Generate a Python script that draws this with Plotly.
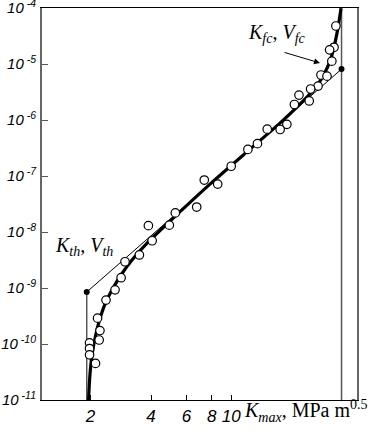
import plotly.graph_objects as go

# Experimental points (K_max, MPa m^0.5 ; crack growth rate V)
k_points = [33.1, 32.4, 30.8, 31.6, 27.9, 29.9, 27.0, 24.8, 24.4, 21.7, 20.6, 18.9,
            17.5, 15.1, 13.5, 12.1, 10.0, 8.57, 7.35, 6.74, 5.28, 4.93, 3.88, 4.05,
            3.50, 2.97, 2.84, 2.65, 2.39, 2.17, 2.23, 2.21, 1.98, 1.98, 1.98, 2.12]
v_points = [4.8e-5, 2.0e-5, 1.8e-5, 1.13e-5, 6.4e-6, 6.1e-6, 4.05e-6, 3.6e-6, 2.2e-6,
            2.8e-6, 1.9e-6, 8.4e-7, 6.8e-7, 6.9e-7, 3.8e-7, 3.0e-7, 1.5e-7, 7.2e-8,
            8.5e-8, 2.8e-8, 2.2e-8, 1.33e-8, 1.3e-8, 7.0e-9, 3.9e-9, 2.95e-9, 1.53e-9,
            9.3e-10, 6.1e-10, 2.9e-10, 1.74e-10, 1.18e-10, 1.05e-10, 8.3e-11, 6.4e-11,
            4.5e-11]

# Fitted curve
k_curve = [1.957, 1.974, 2.002, 2.048, 2.120, 2.219, 2.363, 2.559, 2.837, 3.217,
           3.863, 4.967, 7.847, 12.40, 17.47, 21.96, 26.08, 28.57, 30.95, 32.39,
           33.52, 34.50, 35.10]
v_curve = [1e-11, 1.85e-11, 3.73e-11, 7.2e-11, 1.39e-10, 2.68e-10, 5.18e-10, 9.2e-10,
           1.71e-9, 3.16e-9, 6.62e-9, 1.57e-8, 7.19e-8, 3.03e-7, 8.83e-7, 1.93e-6,
           3.72e-6, 6.11e-6, 1.13e-5, 2.01e-5, 3.58e-5, 6.62e-5, 1e-4]

# Characteristic points
k_th, v_th = 1.917, 8.49e-10
k_fc, v_fc = 35.3, 8.15e-6

x_ticks = [2, 4, 6, 8, 10]
x_ticktext = ["<i>2</i>", "<i>4</i>", "<i>6</i>", "<i>8</i>", "<i>10</i>"]
y_ticks = [1e-11, 1e-10, 1e-9, 1e-8, 1e-7, 1e-6, 1e-5, 1e-4]
y_exps = [-11, -10, -9, -8, -7, -6, -5, -4]
y_ticktext = ["<i>10</i><sup><i> -%d</i></sup>" % (-e) for e in y_exps]

y_min, y_max = 1e-11, 1e-4

fig = go.Figure()

fig.add_trace(go.Scatter(x=[k_th, k_th], y=[y_min, v_th], mode="lines",
                         line=dict(color="#555555", width=1.5), hoverinfo="skip"))
fig.add_trace(go.Scatter(x=[k_fc, k_fc], y=[y_min, y_max], mode="lines",
                         line=dict(color="#555555", width=1.5), hoverinfo="skip"))
fig.add_trace(go.Scatter(x=[k_th, k_fc], y=[v_th, v_fc], mode="lines",
                         line=dict(color="black", width=1), hoverinfo="skip"))
fig.add_trace(go.Scatter(x=k_curve, y=v_curve, mode="lines",
                         line=dict(color="black", width=3.2, shape="spline", smoothing=0.6)))
fig.add_trace(go.Scatter(x=k_points, y=v_points, mode="markers",
                         marker=dict(symbol="circle", size=8.5, color="white",
                                     line=dict(color="black", width=1.2))))
fig.add_trace(go.Scatter(x=[k_th, k_fc], y=[v_th, v_fc], mode="markers",
                         marker=dict(symbol="circle", size=6, color="black")))

serif = "Liberation Serif, Times New Roman, serif"
sans = "Liberation Sans, Arial, sans-serif"

annotations = [
    dict(x=k_th, y=v_th, xref="x", yref="y", ax=0, ay=-26, axref="pixel", ayref="pixel",
         text="", showarrow=True, arrowhead=2, arrowsize=1.2, arrowwidth=1,
         arrowcolor="black", standoff=4),
    dict(x=0.8825, y=0.8597, xref="paper", yref="paper", ax=-37, ay=-11,
         text="", showarrow=True, arrowhead=2, arrowsize=1.2, arrowwidth=1,
         arrowcolor="black"),
    dict(x=0.133, y=0.392, xref="paper", yref="paper", showarrow=False,
         xanchor="center", yanchor="middle",
         text="<i>K<sub>th</sub>, V<sub>th</sub></i>",
         font=dict(family=serif, size=20, color="black")),
    dict(x=0.745, y=0.934, xref="paper", yref="paper", showarrow=False,
         xanchor="center", yanchor="middle",
         text="<i>K<sub>fc</sub>, V<sub>fc</sub></i>",
         font=dict(family=serif, size=20, color="black")),
    dict(x=0.635, y=-0.027, xref="paper", yref="paper", showarrow=False,
         xanchor="left", yanchor="middle",
         text="<i>K<sub>max</sub></i>, MPa m<sup>0.5</sup>",
         font=dict(family=serif, size=20, color="black")),
]

fig.update_layout(
    width=389, height=430,
    margin=dict(l=42, r=32, t=8, b=30, autoexpand=False),
    paper_bgcolor="white", plot_bgcolor="white",
    showlegend=False,
    annotations=annotations,
    xaxis=dict(type="log", range=[0.0606, 1.6246], tickvals=x_ticks, ticktext=x_ticktext,
               ticks="inside", ticklen=5, tickcolor="black", showgrid=False,
               zeroline=False, showline=True, linecolor="black", linewidth=1.2,
               mirror=True, automargin=False, ticklabeloverflow="allow",
               tickfont=dict(family=sans, size=17, color="black")),
    yaxis=dict(type="log", range=[-11.0, -3.997], tickvals=y_ticks, ticktext=y_ticktext,
               ticks="inside", ticklen=6, tickcolor="#555555", showgrid=False,
               zeroline=False, showline=True, linecolor="#666666", linewidth=2,
               mirror=True, automargin=False, ticklabeloverflow="allow",
               ticklabelstandoff=1,
               tickfont=dict(family=sans, size=15, color="black")),
)

fig.write_html("out.html", config={"displayModeBar": False},
               post_script="document.body.style.margin='0';")
